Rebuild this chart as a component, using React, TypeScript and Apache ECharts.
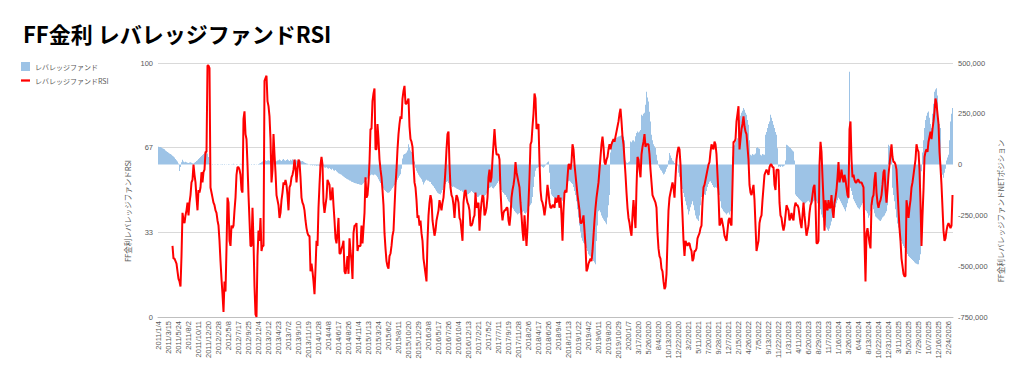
import React, { useEffect, useRef } from "react";
import * as echarts from "echarts";

const TITLE = "FF金利 レバレッジファンドRSI";
const BAR_NAME = "レバレッジファンド";
const LINE_NAME = "レバレッジファンドRSI";
const LEFT_NAME = "FF金利レバレッジファンドRSI";
const RIGHT_NAME = "FF金利レバレッジファンドNETポジション";

// weekly categories starting 2011/1/4 (795 weeks)
const START_DATE = [2011, 1, 4];
const WEEK_COUNT = 795;
const US_FORMAT_FROM = [2020, 2, 1];

const leftTicks = [0, 33, 67, 100];

// RSI (left axis), one value per week
const rsi: (number | null)[] = [
  null, null, null, null, null, null, null, null, null, null,
  null, null, null, null, 28, 23, 23, 22, 21, 18,
  15, 14, 12, 24, 41, 38, 37, 40, 42, 45,
  40, 45, 48, 53, 54, 60, 56, 53, 47, 42,
  50, 49, 51, 57, 53, 57, 58, 65, 65, 99,
  99, 98, 51, 49, 47, 45, 44, 42, 41, 38,
  36, 30, 22, 15, 9, 2, 14, 10, 27, 47,
  45, 30, 28, 36, 35, 36, 42, 47, 56, 59,
  59, 58, 56, 50, 49, 78, 81, 72, 70, 60,
  48, 38, 28, 28, 43, 30, 12, 1, 0, 24,
  34, 30, 39, 26, 28, 28, 93, 94, 95, 85,
  83, 79, 70, 53, 58, 72, 64, 57, 48, 46,
  44, 39, 41, 46, 49, 53, 52, 54, 52, 48,
  42, 51, 52, 55, 56, 58, 62, 59, 53, 58,
  62, 61, 55, 47, 45, 44, 42, 38, 35, 33,
  32, 32, 18, 21, 18, 14, 9, 19, 30, 28,
  43, 52, 60, 63, 60, 45, 41, 44, 47, 54,
  53, 52, 46, 47, 51, 44, 38, 31, 29, 33,
  39, 25, 25, 27, 28, 30, 18, 17, 20, 24,
  17, 31, 26, 22, 15, 33, 36, 36, 37, 26,
  28, 28, 28, 36, 29, 35, 41, 55, 47, 48,
  53, 61, 74, 74, 85, 88, 90, 66, 66, 76,
  70, 62, 58, 55, 50, 44, 33, 27, 22, 20,
  19, 24, 25, 28, 32, 34, 43, 52, 58, 66,
  72, 76, 79, 78, 86, 89, 91, 84, 84, 85,
  86, 75, 70, 69, 67, 60, 53, 51, 46, 39,
  40, 36, 38, 33, 30, 23, 20, 17, 14, 30,
  40, 45, 48, 46, 38, 35, 32, 34, 38, 40,
  42, 46, 44, 42, 45, 47, 52, 58, 66, 72,
  73, 60, 51, 48, 47, 44, 39, 45, 48, 47,
  45, 39, 38, 34, 30, 45, 49, 50, 47, 45,
  44, 42, 36, 36, 37, 39, 40, 49, 43, 44,
  45, 34, 41, 45, 48, 47, 40, 41, 43, 47,
  55, 58, 53, 55, 62, 68, 74, 68, 64, 64,
  64, 62, 50, 42, 38, 41, 42, 42, 43, 43,
  38, 36, 40, 47, 50, 52, 55, 61, 57, 55,
  53, 51, 45, 40, 34, 30, 40, 34, 28, 35,
  45, 55, 68, 69, 75, 80, 88, 86, 74, 75,
  76, 61, 50, 46, 45, 43, 40, 43, 47, 52,
  49, 45, 43, 43, 44, 44, 43, 47, 45, 46,
  48, 43, 47, 40, 30, 42, 49, 50, 49, 55,
  60, 60, 58, 61, 68, 66, 60, 56, 52, 48,
  45, 42, 37, 37, 38, 40, 34, 28, 18, 19,
  21, 22, 23, 22, 26, 32, 38, 43, 47, 50,
  53, 58, 63, 68, 71, 67, 61, 60, 62, 63,
  66, 68, 66, 68, 69, 70, 69, 71, 73, 75,
  77, 80, 82, 77, 71, 68, 62, 56, 49, 43,
  39, 37, 34, 32, 40, 46, 40, 35, 51, 63,
  62, 58, 55, 64, 67, 69, 72, 67, 68, 68,
  68, 64, 58, 53, 48, 47, 46, 45, 43, 33,
  27, 24, 23, 19, 18, 14, 11, 12, 17, 30,
  42, 47, 49, 51, 53, 51, 47, 55, 62, 65,
  67, 66, 60, 49, 40, 30, 24, 30, 29, 28,
  29, 29, 27, 26, 22, 23, 26, 26, 27, 31,
  32, 33, 35, 36, 45, 51, 52, 54, 56, 58,
  60, 61, 65, 68, 67, 66, 69, 68, 64, 56,
  48, 36, 37, 39, 37, 35, 32, 31, 30, 34,
  38, 39, 37, 36, 52, 69, 69, 70, 77, 80,
  83, 66, 70, 74, 76, 79, 75, 73, 72, 67,
  62, 52, 49, 48, 50, 52, 46, 36, 26, 28,
  30, 37, 39, 40, 46, 51, 56, 57, 58, 57,
  56, 59, 60, 60, 59, 59, 52, 50, 58, 58,
  58, 45, 40, 39, 36, 34, 36, 40, 44, 43,
  42, 38, 39, 41, 39, 38, 43, 45, 44, 44,
  43, 40, 37, 35, 40, 45, 40, 36, 32, 34,
  36, 41, 44, 45, 48, 51, 52, 45, 29, 29,
  30, 60, 69, 65, 55, 46, 34, 46, 43, 42,
  46, 43, 43, 48, 42, 39, 45, 47, 50, 55,
  61, 53, 55, 58, 55, 53, 56, 54, 51, 48,
  47, 74, 77, 62, 55, 56, 54, 53, 53, 54,
  54, 53, 53, 53, 52, 51, 30, 14, 33, 35,
  32, 29, 27, 44, 47, 48, 54, 57, 49, 45,
  43, 45, 46, 48, 52, 57, 58, 50, 45, 50,
  56, 60, 64, 68, 63, 61, 61, 60, 58, 50,
  42, 35, 30, 23, 20, 17, 16, 16, 46, 43,
  39, 43, 46, 51, 53, 56, 59, 62, 68, 66,
  65, 58, 45, 28, 40, 50, 63, 65, 66, 65,
  69, 71, 73, 70, 74, 77, 81, 86, 84, 80,
  76, 65, 59, 52, 43, 34, 30, 31, 34, 36,
  37, 36, 35, 36, 48,
];

// leveraged fund net position (right axis), one value per week
const netPosition: number[] = [
  88000, 87000, 86000, 84000, 80000, 78000, 75000, 70000, 66000, 62000,
  58000, 55000, 52000, 48000, 44000, 40000, 35000, 28000, 22000, 15000,
  5000, -32000, -12000, 12000, 24000, 15000, 12000, 14000, 11000, 9000,
  8000, 10000, 12000, 9000, 7000, 6000, 9000, 13000, 18000, 22000,
  27000, 32000, 38000, 42000, 47000, 52000, 56000, 58000, 60000, 55000,
  38000, 8000, 2000, 1000, -2000, 1000, 2000, -1000, 1000, 3000,
  2000, 1000, -1000, 2000, 3000, 1000, -2000, 1000, 2000, 1000,
  3000, 2000, 1000, -1000, 2000, 4000, 2000, 1000, 3000, 2000,
  1000, 2000, 4000, 3000, 1000, 2000, -1000, 1000, 3000, 2000,
  1000, 2000, 1000, -2000, 1000, 2000, 3000, 1000, 2000, 1000,
  3000, 5000, 8000, 12000, 15000, 18000, 20000, 22000, 18000, 20000,
  22000, 19000, 24000, 20000, 18000, 21000, 23000, 19000, 16000, 20000,
  22000, 25000, 21000, 18000, 24000, 28000, 22000, 19000, 23000, 26000,
  21000, 18000, 24000, 20000, 26000, 22000, 19000, 25000, 21000, 18000,
  22000, 24000, 20000, 16000, 18000, 14000, 10000, 8000, 6000, 4000,
  2000, -1000, -3000, -2000, -4000, -2000, -5000, -3000, -6000, -4000,
  -5000, -8000, -6000, -10000, -12000, -9000, -14000, -16000, -13000, -18000,
  -20000, -17000, -22000, -25000, -21000, -28000, -30000, -26000, -33000, -38000,
  -42000, -45000, -48000, -50000, -55000, -58000, -62000, -66000, -70000, -72000,
  -75000, -78000, -80000, -84000, -86000, -88000, -90000, -92000, -93000, -95000,
  -96000, -98000, -99000, -100000, -97000, -92000, -86000, -80000, -74000, -68000,
  -62000, -56000, -52000, -49000, -50000, -52000, -49000, -50000, -55000, -62000,
  -72000, -82000, -90000, -98000, -108000, -118000, -125000, -130000, -135000, -139000,
  -139000, -136000, -130000, -123000, -115000, -108000, -100000, -96000, -85000, -74000,
  -65000, -55000, -48000, -20000, 30000, 48000, 52000, 55000, 60000, 70000,
  100000, 85000, 70000, 62000, 45000, 25000, 15000, -15000, -30000, -40000,
  -50000, -58000, -65000, -72000, -85000, -98000, -88000, -80000, -74000, -78000,
  -80000, -84000, -86000, -95000, -102000, -106000, -115000, -122000, -131000, -138000,
  -142000, -145000, -147000, -138000, -125000, -114000, -102000, -95000, -86000, -82000,
  -90000, -98000, -102000, -106000, -110000, -108000, -112000, -114000, -118000, -120000,
  -122000, -125000, -130000, -128000, -133000, -136000, -140000, -138000, -143000, -147000,
  -145000, -140000, -136000, -130000, -135000, -140000, -145000, -150000, -155000, -160000,
  -158000, -152000, -148000, -150000, -155000, -160000, -157000, -150000, -142000, -130000,
  -120000, -115000, -112000, -108000, -115000, -118000, -112000, -105000, -98000, -90000,
  -82000, -95000, -110000, -125000, -135000, -140000, -147000, -150000, -160000, -170000,
  -180000, -185000, -192000, -205000, -212000, -220000, -228000, -235000, -240000, -245000,
  -242000, -238000, -245000, -240000, -235000, -230000, -238000, -242000, -236000, -228000,
  -215000, -205000, -198000, -190000, -160000, -110000, -60000, -30000, -18000, -15000,
  -12000, -15000, -10000, -8000, -12000, -15000, -10000, -5000, 5000, 12000,
  15000, -40000, -120000, -147000, -155000, -160000, -165000, -172000, -178000, -180000,
  -176000, -170000, -165000, -172000, -178000, -168000, -155000, -140000, -120000, -100000,
  -82000, -80000, -85000, -90000, -95000, -110000, -130000, -150000, -180000, -220000,
  -260000, -300000, -330000, -360000, -375000, -385000, -390000, -392000, -410000, -425000,
  -441000, -448000, -452000, -457000, -465000, -475000, -482000, -490000, -376000, -300000,
  -229000, -225000, -235000, -250000, -261000, -270000, -278000, -285000, -294000, -260000,
  -200000, -150000, 60000, 114000, 118000, 122000, 125000, 128000, 132000, 135000,
  138000, 140000, 142000, 145000, 147000, 140000, 120000, 20000, 10000, 8000,
  12000, 15000, 114000, 110000, 118000, 120000, 114000, 140000, 155000, 163000,
  158000, 163000, 170000, 245000, 240000, 250000, 255000, 294000, 359000, 330000,
  310000, 260000, 212000, 147000, 120000, 100000, 90000, 82000, 49000, 20000,
  -5000, -15000, -25000, -30000, -40000, -49000, -45000, -35000, -20000, -10000,
  20000, 57000, 45000, 33000, 20000, 16000, 8000, 2000, 0, -5000,
  -40000, -60000, -80000, -100000, -120000, -140000, -160000, -180000, -200000, -220000,
  -245000, -230000, -210000, -195000, -180000, -200000, -225000, -250000, -265000, -270000,
  -278000, -250000, -200000, -160000, -147000, -140000, -147000, -150000, -130000, -110000,
  -95000, -85000, -82000, -90000, -100000, -110000, -114000, -112000, -114000, -118000,
  -114000, -150000, -180000, -212000, -220000, -230000, -235000, -240000, -245000, -240000,
  -236000, -245000, -230000, -200000, 40000, 82000, 95000, 110000, 120000, 130000,
  200000, 220000, 240000, 255000, 265000, 278000, 270000, 255000, 245000, 220000,
  196000, 120000, 49000, 45000, 52000, 48000, 50000, 55000, 82000, 85000,
  80000, 78000, 49000, 45000, 52000, 50000, 48000, 147000, 160000, 180000,
  200000, 212000, 245000, 230000, 215000, 196000, 180000, 160000, 147000, 80000,
  -10000, -8000, -12000, -6000, -10000, -8000, -5000, 20000, 98000, 95000,
  90000, 85000, 82000, 75000, 70000, 65000, 20000, -147000, -155000, -160000,
  -165000, -170000, -175000, -180000, -185000, -190000, -196000, -190000, -185000, -180000,
  -178000, -185000, -190000, -195000, -185000, -180000, -175000, -170000, -180000, -190000,
  -200000, -210000, -220000, -245000, -260000, -275000, -290000, -300000, -310000, -320000,
  -327000, -315000, -300000, -280000, -260000, -245000, -230000, -210000, -190000, -175000,
  -163000, -170000, -180000, -190000, -200000, -210000, -220000, -229000, -210000, -190000,
  -170000, 457000, -114000, -130000, -150000, -170000, -180000, -190000, -200000, -210000,
  -215000, -220000, -210000, -200000, -190000, -200000, -215000, -225000, -229000, -240000,
  -261000, -250000, -230000, -196000, -200000, -220000, -240000, -255000, -260000, -265000,
  -270000, -275000, -278000, -270000, -260000, -255000, -250000, -240000, -230000, -200000,
  98000, 90000, 85000, 60000, -114000, -150000, -180000, -220000, -260000, -290000,
  -310000, -330000, -343000, -376000, -390000, -400000, -410000, -420000, -430000, -440000,
  -450000, -455000, -460000, -465000, -470000, -475000, -480000, -485000, -488000, -490000,
  -490000, -470000, -441000, -33000, 60000, 120000, 180000, 220000, 240000, 255000,
  261000, 230000, 200000, 180000, 250000, 300000, 359000, 370000, 376000, 340000,
  229000, 200000, 180000, -33000, -50000, -65000, -40000, -20000, 20000, 35000,
  49000, 120000, 212000, 250000, 278000,
];

function buildCategories(): string[] {
  const out: string[] = [];
  const start = Date.UTC(START_DATE[0], START_DATE[1] - 1, START_DATE[2]);
  const switchAt = Date.UTC(US_FORMAT_FROM[0], US_FORMAT_FROM[1] - 1, US_FORMAT_FROM[2]);
  for (let i = 0; i < WEEK_COUNT; i++) {
    const t = start + i * 7 * 86400000;
    const d = new Date(t);
    const y = d.getUTCFullYear();
    const m = d.getUTCMonth() + 1;
    const day = d.getUTCDate();
    out.push(t >= switchAt ? `${m}/${day}/${y}` : `${y}/${m}/${day}`);
  }
  return out;
}

const FONT = "'Liberation Sans', 'Noto Sans CJK JP', sans-serif";
const JP_FONT = "'Noto Sans CJK JP', 'Liberation Sans', sans-serif";

export default function App() {
  const ref = useRef<HTMLDivElement>(null);

  useEffect(() => {
    document.body.style.margin = "0";
    if (!ref.current) return;
    const chart = echarts.init(ref.current, undefined, { renderer: "svg" });
    const categories = buildCategories();

    chart.setOption({
      animation: false,
      backgroundColor: "#ffffff",
      textStyle: { fontFamily: FONT },
      title: {
        text: TITLE,
        left: 18,
        top: 17,
        textStyle: { fontSize: 22, fontWeight: "bold", color: "#000000", fontFamily: JP_FONT },
      },
      legend: {
        orient: "vertical",
        left: 16,
        top: 57,
        itemGap: 6,
        itemWidth: 9,
        itemHeight: 9,
        textStyle: { fontSize: 7, color: "#595959", fontFamily: JP_FONT },
        data: [
          { name: BAR_NAME, icon: "rect" },
          { name: LINE_NAME, icon: "path://M0,4 L10,4 L10,6.5 L0,6.5 Z" },
        ],
      },
      grid: { left: 158, right: 71, top: 63, bottom: 63, containLabel: false },
      xAxis: {
        type: "category",
        data: categories,
        boundaryGap: true,
        axisLine: { show: true, lineStyle: { color: "#bfbfbf", width: 1 } },
        axisTick: { show: false },
        axisLabel: {
          interval: 9,
          rotate: 90,
          fontSize: 7.5,
          color: "#595959",
          margin: 4,
        },
        splitLine: { show: false },
      },
      yAxis: [
        {
          type: "value",
          min: 0,
          max: 100,
          interval: 100 / 3,
          axisLine: { show: false },
          axisTick: { show: false },
          axisLabel: {
            fontSize: 7.5,
            color: "#595959",
            margin: 5,
            formatter: (v: number) => {
              const r = Math.round(v);
              return leftTicks.includes(r) ? String(r) : "";
            },
          },
          splitLine: { show: true, lineStyle: { color: "#d9d9d9", width: 1 } },
        },
        {
          type: "value",
          min: -750000,
          max: 500000,
          interval: 250000,
          axisLine: { show: false },
          axisTick: { show: false },
          axisLabel: { fontSize: 7.5, color: "#595959", margin: 5 },
          splitLine: { show: false },
        },
      ],
      series: [
        {
          name: BAR_NAME,
          type: "bar",
          yAxisIndex: 1,
          data: netPosition,
          barWidth: "50%",
          itemStyle: { color: "#9dc3e6" },
          z: 1,
        },
        {
          name: LINE_NAME,
          type: "line",
          yAxisIndex: 0,
          data: rsi,
          showSymbol: false,
          symbol: "none",
          connectNulls: false,
          lineStyle: { color: "#ff0000", width: 2 },
          itemStyle: { color: "#ff0000" },
          z: 3,
        },
      ],
      graphic: [
        {
          type: "text",
          x: 127,
          y: 211,
          rotation: Math.PI / 2,
          style: {
            text: LEFT_NAME,
            fontSize: 7.5,
            fontFamily: JP_FONT,
            fill: "#595959",
            align: "center",
            verticalAlign: "middle",
          },
        },
        {
          type: "text",
          x: 1000,
          y: 211,
          rotation: Math.PI / 2,
          style: {
            text: RIGHT_NAME,
            fontSize: 7.5,
            fontFamily: JP_FONT,
            fill: "#595959",
            align: "center",
            verticalAlign: "middle",
          },
        },
      ],
    });

    return () => chart.dispose();
  }, []);

  return <div ref={ref} style={{ width: 1024, height: 380 }} />;
}
